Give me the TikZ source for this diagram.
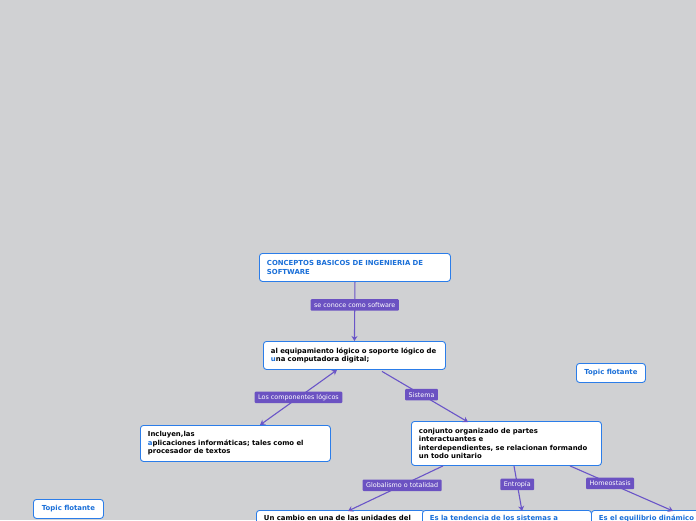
\documentclass[tikz,border=0pt]{standalone}
\usepackage{fontspec}
\setmainfont{DejaVu Sans}
\newfontfamily\dvs{DejaVu Sans}
\usetikzlibrary{arrows.meta,calc}
\definecolor{bgc}{HTML}{D0D1D3}
\definecolor{boxblue}{HTML}{2B7DE9}
\definecolor{txtblue}{HTML}{1A6FD8}
\definecolor{linec}{HTML}{6A55C8}
\definecolor{labc}{HTML}{6B52C2}
\begin{document}
\begin{tikzpicture}[x=1pt,y=-1pt,
  mbox/.style={draw=boxblue, line width=0.9pt, fill=white, rounded corners=3pt,
    anchor=north west, inner xsep=7.5pt, inner ysep=0pt, align=left,
    font=\dvs\bfseries\fontsize{6.9}{8.4}\selectfont},
  tbox/.style={mbox, align=center, inner xsep=0pt, text=txtblue},
  cutbox/.style={mbox, inner ysep=4.5pt, text depth=20pt},
  elab/.style={fill=labc, text=white, rounded corners=1pt, inner xsep=3.5pt,
    inner ysep=0pt, minimum height=11.5pt, font=\dvs\fontsize{6.4}{7}\selectfont},
  conn/.style={draw=linec, line width=1.1pt, -{Stealth[length=5pt,width=6pt]}},
  conn2/.style={draw=linec, line width=1.1pt, {Stealth[length=5pt,width=6pt]}-{Stealth[length=5pt,width=6pt]}}]
\useasboundingbox (0,0) rectangle (696,520);
\fill[bgc] (0,0) rectangle (696,520);
\begin{scope}
\clip (0,0) rectangle (696,520);
% main nodes
\node[mbox, text=txtblue, text width=176pt, minimum height=28pt] (root) at (259,253)
  {CONCEPTOS BASICOS DE INGENIERIA DE\\SOFTWARE};
\node[mbox, text width=167pt, minimum height=28pt] (n2) at (263,341)
  {al equipamiento lógico o soporte lógico de\\{\color{txtblue}u}na computadora digital;};
\node[mbox, text width=175pt, minimum height=36pt] (n3) at (140,425)
  {Incluyen,las\\{\color{txtblue}a}plicaciones informáticas; tales como el\\procesador de textos};
\node[mbox, text width=175pt, minimum height=44pt] (n4) at (411,421)
  {conjunto organizado de partes\\interactuantes e\\interdependientes, se relacionan formando\\un todo unitario};
\node[tbox, minimum width=69pt, minimum height=19pt] (tfr) at (576,363) {Topic flotante};
\node[tbox, minimum width=70pt, minimum height=19pt] (tfl) at (33,499) {Topic flotante};
% bottom (cut) nodes
\node[cutbox, text width=153pt] (b1) at (256,510)
  {Un cambio en una de las unidades del};
\node[cutbox, text=txtblue, text width=154pt] (b2) at (422,510)
  {Es la tendencia de los sistemas a};
\node[cutbox, text=txtblue, text width=105pt] (b3) at (591,510)
  {Es el equilibrio dinámico};
% connectors
\draw[conn] (root.south) -- (n2.north)
  node[elab, pos=0.39] (l1) {se conoce como software};
\draw[conn2] ($(n2.south west)+(74,0)$) -- ($(n3.north west)+(120,0)$)
  node[elab, pos=0.5] (l2) {Los componentes lógicos};
\draw[conn] ($(n2.south west)+(119,1.5)$) -- ($(n4.north west)+(57,1)$)
  node[elab, pos=0.46] (l3) {Sistema};
\draw[conn] ($(n4.south west)+(32,0)$) -- ($(b1.north west)+(92,1)$)
  node[elab, pos=0.43] (l4) {Globalismo o totalidad};
\draw[conn] ($(n4.south west)+(103,0)$) -- ($(b2.north west)+(100,1)$)
  node[elab, pos=0.41] (l5) {Entropía};
\draw[conn] ($(n4.south west)+(159,0)$) -- ($(b3.north west)+(82,1)$)
  node[elab, pos=0.39] (l6) {Homeostasis};
\end{scope}
\end{tikzpicture}
\end{document}
